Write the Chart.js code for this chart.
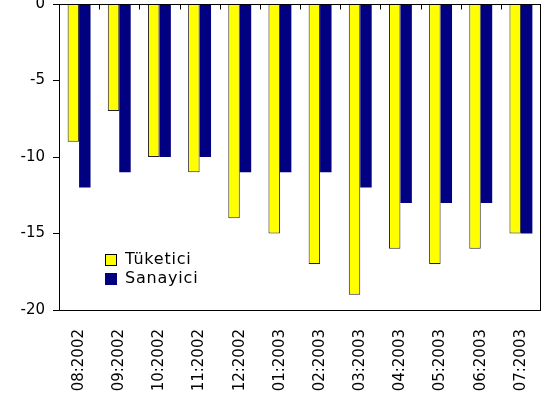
<!DOCTYPE html>
<html lang="tr">
<head>
<meta charset="UTF-8"/>
<title>Tüketici / Sanayici</title>
<style>
  html, body { margin:0; padding:0; background:#fff; }
  #wrap { position:relative; width:542px; height:400px; }
</style>
<script src="https://cdn.jsdelivr.net/npm/chart.js"></script>
</head>
<body>
<div id="wrap"><canvas id="c" width="542" height="400"></canvas></div>
<script>
const months = ['08:2002','09:2002','10:2002','11:2002','12:2002','01:2003','02:2003','03:2003','04:2003','05:2003','06:2003','07:2003'];
const tuketici = [-9, -7, -10, -11, -14, -15, -17, -19, -16, -17, -16, -15];
const sanayici = [-12, -11, -10, -10, -11, -11, -11, -12, -13, -13, -13, -15];
const yTicks = [0, -5, -10, -15, -20];

const FONT = 'DejaVu Sans, Verdana, sans-serif';

// frame round the plot plus small inward ticks on the zero line
const framePlugin = {
  id: 'frame',
  afterDatasetsDraw(chart) {
    const { ctx, chartArea: a, scales } = chart;
    ctx.save();
    ctx.strokeStyle = '#000';
    ctx.lineWidth = 1;
    ctx.strokeRect(a.left + 0.5, a.top + 0.5, a.right - a.left - 1, a.bottom - a.top);
    const y0 = Math.round(scales.y.getPixelForValue(0)) + 0.5;
    ctx.beginPath();
    for (let i = 1; i < months.length; i++) {
      const x = Math.round((scales.x.getPixelForTick(i - 1) + scales.x.getPixelForTick(i)) / 2) + 0.5;
      ctx.moveTo(x, y0);
      ctx.lineTo(x, y0 + 5);
    }
    ctx.stroke();
    ctx.restore();
  }
};

// legend drawn inside the plot, lower left
const innerLegend = {
  id: 'innerLegend',
  afterDraw(chart) {
    const { ctx } = chart;
    const x = 105, y = 254, row = 19;
    ctx.save();
    ctx.font = '16px ' + FONT;
    ctx.letterSpacing = '0.8px';
    ctx.textBaseline = 'middle';
    chart.data.datasets.forEach((ds, i) => {
      const by = y + i * row;
      ctx.fillStyle = ds.backgroundColor;
      ctx.fillRect(x, by, 12, 12);
      if (ds.borderWidth) {
        ctx.strokeStyle = '#000';
        ctx.lineWidth = 1;
        ctx.strokeRect(x + 0.5, by + 0.5, 11, 11);
      }
      ctx.fillStyle = '#000';
      ctx.fillText(ds.label, x + 20, by + 6);
    });
    ctx.restore();
  }
};

new Chart(document.getElementById('c'), {
  type: 'bar',
  data: {
    labels: months,
    datasets: [
      { label: 'Tüketici', data: tuketici, backgroundColor: '#FFFF00', borderColor: '#222', borderWidth: 1, borderSkipped: 'start' },
      { label: 'Sanayici', data: sanayici, backgroundColor: '#000080', borderWidth: 0 }
    ]
  },
  options: {
    responsive: false,
    animation: false,
    layout: { padding: { top: 4, right: 1, left: 0, bottom: 0 } },
    datasets: { bar: { barPercentage: 1, categoryPercentage: 0.57 } },
    plugins: { legend: { display: false }, tooltip: { enabled: false } },
    scales: {
      x: {
        grid: { display: false },
        border: { display: false },
        ticks: {
          color: '#000', font: { family: FONT, size: 15 },
          minRotation: 90, maxRotation: 90, padding: 11, autoSkip: false
        },
        afterFit(s) { s.height = 90; s.paddingLeft = 0; s.paddingRight = 0; }
      },
      y: {
        min: -20, max: 0,
        afterBuildTicks(s) { s.ticks = yTicks.map(v => ({ value: v })); },
        grid: { drawOnChartArea: false, tickLength: 6, color: '#000' },
        border: { display: true, color: '#000' },
        ticks: { color: '#000', font: { family: FONT, size: 15 }, padding: 8 },
        afterFit(s) { s.width = 59; s.paddingTop = 0; s.paddingBottom = 0; }
      }
    }
  },
  plugins: [framePlugin, innerLegend]
});
</script>
</body>
</html>
